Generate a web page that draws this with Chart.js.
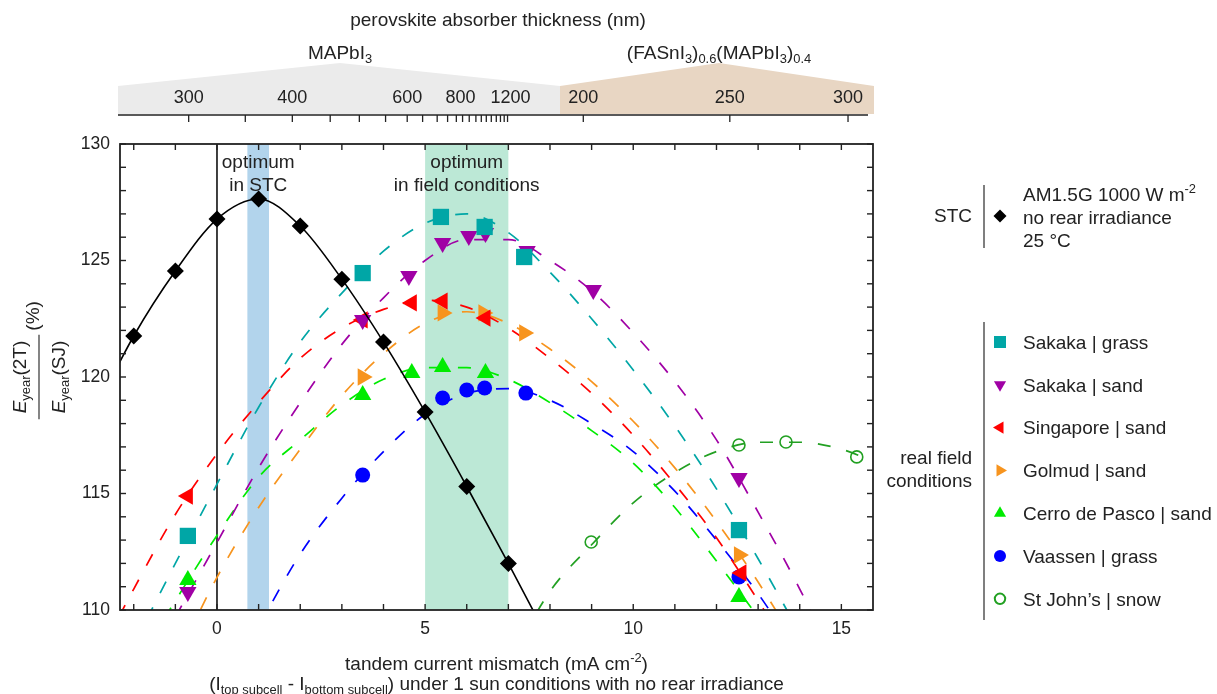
<!DOCTYPE html>
<html>
<head>
<meta charset="utf-8">
<script src="https://cdn.jsdelivr.net/npm/chart.js@4.4.1/dist/chart.umd.min.js"></script>
<style>
  html, body { margin: 0; padding: 0; background: #fff; }
  #wrap { position: relative; width: 1217px; height: 694px; }
</style>
</head>
<body>
<div id="wrap"><canvas id="mismatchChart"></canvas></div>
<script>
// STC simulation (black diamonds + solid curve)
const stcX = [-2, -1, 0, 1, 2, 3, 4, 5, 6, 7];
const stcY = [121.76, 124.55, 126.78, 127.64, 126.48, 124.2, 121.5, 118.5, 115.3, 112.0];
const stcCurveX = [-3, -2, -1, 0, 1, 2, 3, 4, 5, 6, 7, 8];
const stcCurveY = [118.3, 121.76, 124.55, 126.78, 127.64, 126.48, 124.2, 121.5, 118.5, 115.3, 112.0, 108.6];

// x positions of the dashed fit curves
const fitX = [-3, -2, -1, 0, 1, 2, 3, 4, 5, 6, 7, 8, 9, 10, 11, 12, 13, 14, 15, 16];

const sakakaGrassX = [-0.70, 3.50, 5.38, 6.43, 7.38, 12.54];
const sakakaGrassY = [113.18, 124.46, 126.87, 126.44, 125.15, 113.43];
const sakakaGrassFit = [null, 108.5, 112.0, 115.4, 118.7, 121.5, 123.6, 125.4, 126.6, 127.0, 126.2, 124.5, 122.5, 120.3, 117.9, 115.2, 112.2, 109.0, null, null];

const sakakaSandX = [-0.70, 3.50, 4.61, 5.42, 6.05, 6.45, 7.45, 9.04, 12.54];
const sakakaSandY = [110.77, 122.45, 124.33, 125.75, 126.05, 126.18, 125.41, 123.73, 115.67];
const sakakaSandFit = [null, null, 109.7, 112.9, 116.1, 118.9, 121.4, 123.4, 125.0, 125.9, 125.9, 125.0, 123.7, 121.9, 119.8, 117.3, 114.2, 110.9, 107.2, null];

const singaporeX = [-0.70, 3.50, 4.68, 5.42, 6.45, 12.6];
const singaporeY = [114.89, 122.45, 123.18, 123.26, 122.53, 111.59];
const singaporeFit = [107.5, 110.9, 114.1, 116.7, 118.9, 120.8, 122.1, 122.9, 123.3, 123.0, 122.1, 120.8, 119.3, 117.5, 115.4, 113.1, 110.4, 107.5, null, null];

const golmudX = [3.50, 5.42, 6.40, 7.38, 12.54];
const golmudY = [120.0, 122.75, 122.75, 121.89, 112.36];
const golmudFit = [null, null, 107.8, 111.4, 114.4, 116.9, 119.2, 121.0, 122.3, 122.8, 122.3, 121.2, 119.8, 118.1, 116.1, 113.8, 111.2, 108.3, null, null];

const cerroX = [-0.70, 3.50, 4.68, 5.42, 6.45, 12.54];
const cerroY = [111.29, 119.23, 120.17, 120.43, 120.17, 110.56];
const cerroFit = [null, 107.5, 110.4, 113.2, 115.7, 117.3, 118.8, 119.9, 120.4, 120.4, 119.9, 118.9, 117.7, 116.3, 114.4, 112.1, 109.7, null, null, null];

const vaassenX = [3.50, 5.42, 6.00, 6.43, 7.42, 12.54];
const vaassenY = [115.79, 119.1, 119.44, 119.53, 119.31, 111.42];
const vaassenFit = [null, null, null, null, 109.3, 112.4, 114.8, 116.8, 118.4, 119.3, 119.5, 119.0, 118.0, 116.8, 115.1, 113.0, 110.7, 108.0, null, null];

const stJohnsX = [8.99, 12.54, 13.67, 15.37];
const stJohnsY = [112.92, 117.08, 117.21, 116.57];
const stJohnsFit = [null, null, null, null, null, null, null, null, null, null, 107.7, 110.8, 112.8, 114.6, 115.9, 116.8, 117.2, 117.2, 116.9, 116.2];

// shaded optimum bands and the zero-mismatch line (mA cm-2)
const stcBand = [0.73, 1.25];
const fieldBand = [5.0, 7.0];
const zeroLineX = 0;

// top axis: perovskite thickness (nm) placed on the mismatch axis
const mapiTickX = [-0.68, 0.68, 1.81, 2.72, 3.42, 4.05, 4.57, 4.94, 5.29, 5.54, 5.75, 5.90, 6.06, 6.22, 6.35, 6.47, 6.59, 6.71, 6.81, 6.90, 6.98];
const mapiLabelX = [-0.68, 1.81, 4.57, 5.85, 7.05];
const mapiLabels = ['300', '400', '600', '800', '1200'];
const fasnTickX = [8.80, 12.32, 15.16];
const fasnLabels = ['200', '250', '300'];

const FONT = '"Liberation Sans", Arial, Helvetica, sans-serif';

const fieldSeries = [
    { label: 'Sakaka | grass', x: sakakaGrassX, y: sakakaGrassY, fit: sakakaGrassFit, color: 'rgb(0, 166, 166)', style: 'rect', radius: 11.5, rot: 0 },
    { label: 'Sakaka | sand', x: sakakaSandX, y: sakakaSandY, fit: sakakaSandFit, color: 'rgb(160, 0, 165)', style: 'triangle', radius: 10, rot: 180 },
    { label: 'Singapore | sand', x: singaporeX, y: singaporeY, fit: singaporeFit, color: 'rgb(255, 0, 0)', style: 'triangle', radius: 10, rot: 270 },
    { label: 'Golmud | sand', x: golmudX, y: golmudY, fit: golmudFit, color: 'rgb(247, 148, 30)', style: 'triangle', radius: 10, rot: 90 },
    { label: 'Cerro de Pasco | sand', x: cerroX, y: cerroY, fit: cerroFit, color: 'rgb(0, 235, 0)', style: 'triangle', radius: 10, rot: 0 },
    { label: 'Vaassen | grass', x: vaassenX, y: vaassenY, fit: vaassenFit, color: 'rgb(0, 0, 255)', style: 'circle', radius: 7.5, rot: 0 },
    { label: 'St John\u2019s | snow', x: stJohnsX, y: stJohnsY, fit: stJohnsFit, color: 'rgb(34, 160, 34)', style: 'circle', radius: 6, rot: 0, hollow: true }
];

function toPoints(xs, ys) {
    return xs.map((x, i) => ({ x: x, y: ys[i] })).filter(p => p.y !== null);
}

const datasets = [];
datasets.push({
    data: toPoints(stcX, stcY),
    showLine: false,
    pointStyle: 'rectRot',
    pointRadius: 8.5,
    pointBackgroundColor: '#000',
    pointBorderWidth: 0
});
datasets.push({
    data: toPoints(stcCurveX, stcCurveY),
    showLine: true,
    borderColor: '#000',
    borderWidth: 1.6,
    pointRadius: 0,
    cubicInterpolationMode: 'monotone'
});
fieldSeries.forEach(s => {
    datasets.push({
        data: toPoints(s.x, s.y),
        showLine: false,
        pointStyle: s.style,
        pointRadius: s.radius,
        pointRotation: s.rot,
        pointBackgroundColor: s.hollow ? 'rgba(0,0,0,0)' : s.color,
        pointBorderColor: s.color,
        pointBorderWidth: s.hollow ? 1.6 : 0
    });
});
fieldSeries.forEach(s => {
    datasets.push({
        data: toPoints(fitX, s.fit),
        showLine: true,
        borderColor: s.color,
        borderWidth: 1.7,
        borderDash: [13, 16],
        pointRadius: 0,
        cubicInterpolationMode: 'monotone'
    });
});

function fontFor(size, kind) {
    const s = (kind === 'sub' || kind === 'sup') ? size * 0.68 : size;
    return (kind === 'it' ? 'italic ' : '') + s + 'px ' + FONT;
}

function measureRich(ctx, parts, size) {
    return parts.map(p => { ctx.font = fontFor(size, p[1]); return ctx.measureText(p[0]).width; });
}

// draws text parts, y is the visual middle of capitals
function richText(ctx, parts, x, y, align, size) {
    const widths = measureRich(ctx, parts, size);
    const total = widths.reduce((a, b) => a + b, 0);
    let cx = align === 'center' ? x - total / 2 : (align === 'right' ? x - total : x);
    const base = y + size * 0.36;
    ctx.textAlign = 'left';
    ctx.textBaseline = 'alphabetic';
    parts.forEach((p, i) => {
        ctx.font = fontFor(size, p[1]);
        const dy = p[1] === 'sub' ? size * 0.24 : (p[1] === 'sup' ? -size * 0.4 : 0);
        ctx.fillText(p[0], cx, base + dy);
        cx += widths[i];
    });
    return total;
}

function drawMarker(ctx, style, x, y, r, rot, color, hollow) {
    ctx.save();
    ctx.translate(x, y);
    ctx.rotate(rot * Math.PI / 180);
    ctx.beginPath();
    if (style === 'rect') {
        ctx.rect(-r, -r, 2 * r, 2 * r);
    } else if (style === 'rectRot') {
        ctx.moveTo(0, -r); ctx.lineTo(r, 0); ctx.lineTo(0, r); ctx.lineTo(-r, 0); ctx.closePath();
    } else if (style === 'triangle') {
        for (let k = 0; k < 3; k++) {
            const a = k * 2 * Math.PI / 3;
            const px = Math.sin(a) * r, py = -Math.cos(a) * r;
            if (k === 0) ctx.moveTo(px, py); else ctx.lineTo(px, py);
        }
        ctx.closePath();
    } else {
        ctx.arc(0, 0, r, 0, Math.PI * 2);
    }
    if (hollow) {
        ctx.strokeStyle = color; ctx.lineWidth = 2; ctx.stroke();
    } else {
        ctx.fillStyle = color; ctx.fill();
    }
    ctx.restore();
}

function line(ctx, x1, y1, x2, y2) {
    ctx.beginPath(); ctx.moveTo(x1, y1); ctx.lineTo(x2, y2); ctx.stroke();
}

const decorations = {
    id: 'decorations',
    beforeDatasetsDraw(chart) {
        const { ctx, chartArea: a, scales: { x } } = chart;
        ctx.save();
        ctx.fillStyle = 'rgb(178, 212, 236)';
        const b1 = x.getPixelForValue(stcBand[0]), b2 = x.getPixelForValue(stcBand[1]);
        ctx.fillRect(b1, a.top, b2 - b1, a.bottom - a.top);
        ctx.fillStyle = 'rgb(188, 232, 214)';
        const g1 = x.getPixelForValue(fieldBand[0]), g2 = x.getPixelForValue(fieldBand[1]);
        ctx.fillRect(g1, a.top, g2 - g1, a.bottom - a.top);
        ctx.strokeStyle = '#000';
        ctx.lineWidth = 1.5;
        const z = x.getPixelForValue(zeroLineX);
        line(ctx, z, a.top, z, a.bottom);

        // band annotations
        ctx.fillStyle = '#222';
        const sc = x.getPixelForValue((stcBand[0] + stcBand[1]) / 2);
        const fc = x.getPixelForValue((fieldBand[0] + fieldBand[1]) / 2);
        richText(ctx, [['optimum']], sc, 161, 'center', 19);
        richText(ctx, [['in STC']], sc, 184, 'center', 19);
        richText(ctx, [['optimum']], fc, 161, 'center', 19);
        richText(ctx, [['in field conditions']], fc, 184, 'center', 19);
        ctx.restore();
    },
    afterDatasetsDraw(chart) {
        const { ctx, chartArea: a, scales: { x, y } } = chart;
        ctx.save();
        ctx.strokeStyle = '#222';
        ctx.lineWidth = 1.8;
        ctx.strokeRect(a.left, a.top, a.right - a.left, a.bottom - a.top);
        ctx.lineWidth = 1.4;
        const tl = 6;
        x.ticks.forEach(t => {
            const px = x.getPixelForValue(t.value);
            line(ctx, px, a.bottom, px, a.bottom - tl);
            line(ctx, px, a.top, px, a.top + tl);
        });
        y.ticks.forEach(t => {
            const py = y.getPixelForValue(t.value);
            line(ctx, a.left, py, a.left + tl, py);
            line(ctx, a.right, py, a.right - tl, py);
        });
        ctx.restore();
    },
    afterDraw(chart) {
        const { ctx, chartArea: a, scales: { x } } = chart;
        ctx.save();
        ctx.fillStyle = '#222';

        // y-axis title: E_year(2T) / E_year(SJ) (%)
        ctx.save();
        ctx.translate(39, 377);
        ctx.rotate(-Math.PI / 2);
        const num = [['E', 'it'], ['year', 'sub'], ['(2T)']];
        const den = [['E', 'it'], ['year', 'sub'], ['(SJ)']];
        const w = Math.max(...[num, den].map(p => measureRich(ctx, p, 19).reduce((s, v) => s + v, 0)));
        richText(ctx, num, 0, -20, 'center', 19);
        richText(ctx, den, 0, 19, 'center', 19);
        ctx.strokeStyle = '#333';
        ctx.lineWidth = 1.2;
        line(ctx, -w / 2 - 6, 0, w / 2 + 6, 0);
        richText(ctx, [['(%)']], w / 2 + 10, -7, 'left', 19);
        ctx.restore();

        // x-axis titles
        const cx = (a.left + a.right) / 2;
        richText(ctx, [['tandem current mismatch (mA cm'], ['-2', 'sup'], [')']], cx, 663, 'center', 19);
        richText(ctx, [['(I'], ['top subcell', 'sub'], [' - I'], ['bottom subcell', 'sub'], [') under 1 sun conditions with no rear irradiance']], cx, 683, 'center', 19);

        // top axis: thickness bands
        ctx.fillStyle = 'rgb(235, 235, 235)';
        ctx.beginPath();
        ctx.moveTo(118, 114); ctx.lineTo(118, 86); ctx.lineTo(340, 63); ctx.lineTo(560, 86); ctx.lineTo(560, 114);
        ctx.closePath(); ctx.fill();
        ctx.fillStyle = 'rgb(232, 214, 195)';
        ctx.beginPath();
        ctx.moveTo(560, 114); ctx.lineTo(560, 86); ctx.lineTo(719, 63); ctx.lineTo(874, 86); ctx.lineTo(874, 114);
        ctx.closePath(); ctx.fill();

        ctx.strokeStyle = '#222';
        ctx.lineWidth = 1.6;
        line(ctx, 118, 115, 868, 115);
        ctx.lineWidth = 1.3;
        mapiTickX.concat(fasnTickX).forEach(v => {
            const px = x.getPixelForValue(v);
            line(ctx, px, 115, px, 122);
        });
        ctx.fillStyle = '#222';
        mapiLabels.forEach((t, i) => richText(ctx, [[t]], x.getPixelForValue(mapiLabelX[i]), 97, 'center', 18));
        fasnLabels.forEach((t, i) => richText(ctx, [[t]], x.getPixelForValue(fasnTickX[i]), 97, 'center', 18));

        richText(ctx, [['MAPbI'], ['3', 'sub']], 340, 52, 'center', 19);
        richText(ctx, [['(FASnI'], ['3', 'sub'], [')'], ['0.6', 'sub'], ['(MAPbI'], ['3', 'sub'], [')'], ['0.4', 'sub']], 719, 52, 'center', 19);
        richText(ctx, [['perovskite absorber thickness (nm)']], 498, 19, 'center', 19);

        // legend
        ctx.strokeStyle = '#555';
        ctx.lineWidth = 1.5;
        line(ctx, 984, 185, 984, 248);
        line(ctx, 984, 322, 984, 620);
        ctx.fillStyle = '#222';
        richText(ctx, [['STC']], 972, 215, 'right', 19);
        drawMarker(ctx, 'rectRot', 1000, 216, 6.5, 0, '#000', false);
        ctx.fillStyle = '#222';
        richText(ctx, [['AM1.5G 1000 W m'], ['-2', 'sup']], 1023, 194, 'left', 19);
        richText(ctx, [['no rear irradiance']], 1023, 217, 'left', 19);
        richText(ctx, [['25 \u00B0C']], 1023, 240, 'left', 19);
        richText(ctx, [['real field']], 972, 457, 'right', 19);
        richText(ctx, [['conditions']], 972, 480, 'right', 19);
        fieldSeries.forEach((s, i) => {
            const ly = 342 + i * 42.8;
            const r = s.style === 'rect' ? 6 : (s.style === 'triangle' ? 7 : (s.hollow ? 5.2 : 6));
            drawMarker(ctx, s.style, 1000, ly, r, s.rot, s.color, s.hollow);
            ctx.fillStyle = '#222';
            richText(ctx, [[s.label]], 1023, ly, 'left', 19);
        });
        ctx.restore();
    }
};

new Chart(document.getElementById('mismatchChart').getContext('2d'), {
    type: 'scatter',
    data: { datasets: datasets },
    options: {
        responsive: true,
        maintainAspectRatio: false,
        animation: false,
        events: [],
        layout: { padding: { top: 144, right: 344, left: 0, bottom: 0 } },
        plugins: { legend: { display: false }, tooltip: { enabled: false } },
        scales: {
            x: {
                type: 'linear',
                min: -2.33,
                max: 15.76,
                grid: { display: false, drawTicks: false },
                border: { display: false },
                ticks: {
                    stepSize: 1,
                    autoSkip: false,
                    maxRotation: 0,
                    includeBounds: false,
                    padding: 9,
                    color: '#222',
                    font: { family: FONT, size: 17.5 },
                    callback: v => (Math.abs(v % 5) < 1e-9 ? String(v) : '')
                },
                afterFit: s => { s.height = 84; }
            },
            y: {
                min: 110,
                max: 130,
                grid: { display: false, drawTicks: false },
                border: { display: false },
                ticks: {
                    stepSize: 1,
                    autoSkip: false,
                    padding: 10,
                    color: '#222',
                    font: { family: FONT, size: 17.5 },
                    callback: v => (Math.abs(v % 5) < 1e-9 ? String(v) : '')
                },
                afterFit: s => { s.width = 120; }
            }
        }
    },
    plugins: [decorations]
});
</script>
</body>
</html>
